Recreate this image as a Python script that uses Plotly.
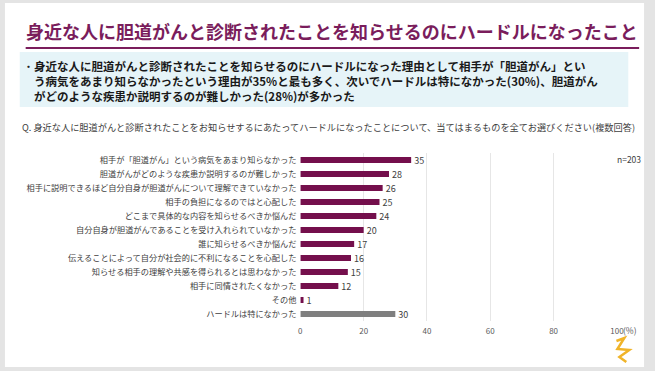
import plotly.graph_objects as go

W, H = 655, 371

title_text = "身近な人に胆道がんと診断されたことを知らせるのにハードルになったこと"
bullet_lines = [
    "身近な人に胆道がんと診断されたことを知らせるのにハードルになった理由として相手が「胆道がん」とい",
    "う病気をあまり知らなかったという理由が35%と最も多く、次いでハードルは特になかった(30%)、胆道がん",
    "がどのような疾患か説明するのが難しかった(28%)が多かった",
]
question_text = "Q. 身近な人に胆道がんと診断されたことをお知らせするにあたってハードルになったことについて、当てはまるものを全てお選びください(複数回答)"

categories = [
    "相手が「胆道がん」という病気をあまり知らなかった",
    "胆道がんがどのような疾患か説明するのが難しかった",
    "相手に説明できるほど自分自身が胆道がんについて理解できていなかった",
    "相手の負担になるのではと心配した",
    "どこまで具体的な内容を知らせるべきか悩んだ",
    "自分自身が胆道がんであることを受け入れられていなかった",
    "誰に知らせるべきか悩んだ",
    "伝えることによって自分が社会的に不利になることを心配した",
    "知らせる相手の理解や共感を得られるとは思わなかった",
    "相手に同情されたくなかった",
    "その他",
    "ハードルは特になかった",
]
values = [35, 28, 26, 25, 24, 20, 17, 16, 15, 12, 1, 30]
x_ticks = [0, 20, 40, 60, 80, 100]
n_label = "n=203"
unit_label = "(%)"

PLUM = "#7a1d5c"
BAR = "#740f4c"
GRAY_BAR = "#7f7f7f"
FONT = "Noto Sans CJK JP"

bar_colors = [BAR] * (len(values) - 1) + [GRAY_BAR]


def px(x):
    return x / W


def py(y):
    return 1 - y / H


fig = go.Figure()
fig.add_trace(go.Bar(
    x=values, y=categories, orientation="h",
    marker=dict(color=bar_colors, line=dict(width=0)),
    width=0.44,
    text=[str(v) for v in values], textposition="outside",
    constraintext="none",
    textfont=dict(family=FONT, size=9, color="#404040"),
    cliponaxis=False,
    hoverinfo="skip",
))

shapes = [
    # white slide
    dict(type="rect", xref="paper", yref="paper", x0=px(3), x1=px(651), y0=py(367), y1=py(3),
         fillcolor="white", line=dict(width=0), layer="below"),
    # title underline
    dict(type="line", xref="paper", yref="paper", x0=px(24), x1=px(646), y0=py(48), y1=py(48),
         line=dict(color=PLUM, width=2)),
    # bullet box
    dict(type="rect", xref="paper", yref="paper", x0=px(18), x1=px(635), y0=py(107), y1=py(52),
         fillcolor="#e6f4f8", line=dict(width=0), layer="below"),
    # logo scribble
    dict(type="path", xref="paper", yref="paper",
         path=f"M {px(623)} {py(341)} L {px(631)} {py(338)} L {px(624)} {py(349)} L {px(636)} {py(350)} "
              f"L {px(626)} {py(357)} L {px(633)} {py(362)}",
         line=dict(color="#f0b429", width=2.5)),
]

annotations = [
    dict(text=f"<b>{title_text}</b>", xref="paper", yref="paper", x=px(22), y=py(31),
         xanchor="left", yanchor="middle", showarrow=False,
         font=dict(family=FONT, size=18, color=PLUM)),
    dict(text="・", xref="paper", yref="paper", x=px(19), y=py(66),
         xanchor="left", yanchor="middle", showarrow=False,
         font=dict(family=FONT, size=11, color="#222")),
    dict(text="<br>".join(f"<b>{l}</b>" for l in bullet_lines), xref="paper", yref="paper",
         x=px(30), y=py(81), xanchor="left", yanchor="middle", align="left", showarrow=False,
         font=dict(family=FONT, size=11.5, color="#1a1a1a")),
    dict(text=question_text, xref="paper", yref="paper", x=px(18), y=py(127),
         xanchor="left", yanchor="middle", showarrow=False,
         font=dict(family=FONT, size=9.2, color="#404040")),
    dict(text=n_label, xref="paper", yref="paper", x=px(650), y=py(159),
         xanchor="right", yanchor="middle", showarrow=False,
         font=dict(family=FONT, size=8.5, color="#404040")),
    dict(text=unit_label, xref="paper", yref="paper", x=px(627.5), y=py(330),
         xanchor="left", yanchor="middle", showarrow=False,
         font=dict(family=FONT, size=8.5, color="#595959")),
]

fig.update_layout(
    width=W, height=H,
    margin=dict(l=0, r=0, t=0, b=0),
    paper_bgcolor="#e4e4e4",
    plot_bgcolor="rgba(0,0,0,0)",
    showlegend=False,
    shapes=shapes,
    annotations=annotations,
    xaxis=dict(
        domain=[px(302.5), px(623.5)], range=[0, 100],
        tickvals=x_ticks, ticktext=[str(t) for t in x_ticks],
        showgrid=True, gridcolor="#e6e6e6", gridwidth=1,
        zeroline=False, showline=False, ticks="",
        ticklabelstandoff=4,
        tickfont=dict(family=FONT, size=8, color="#595959"),
        fixedrange=True,
    ),
    yaxis=dict(
        domain=[py(321), py(153)],
        categoryorder="array", categoryarray=categories,
        autorange="reversed",
        showgrid=False, zeroline=False, showline=False, ticks="",
        ticklabelstandoff=3,
        tickfont=dict(family=FONT, size=8.2, color="#404040"),
        fixedrange=True,
    ),
)

fig.write_html(
    "out.html",
    config={"displayModeBar": False},
    post_script="document.body.style.margin='0';document.body.style.overflow='hidden';",
)
